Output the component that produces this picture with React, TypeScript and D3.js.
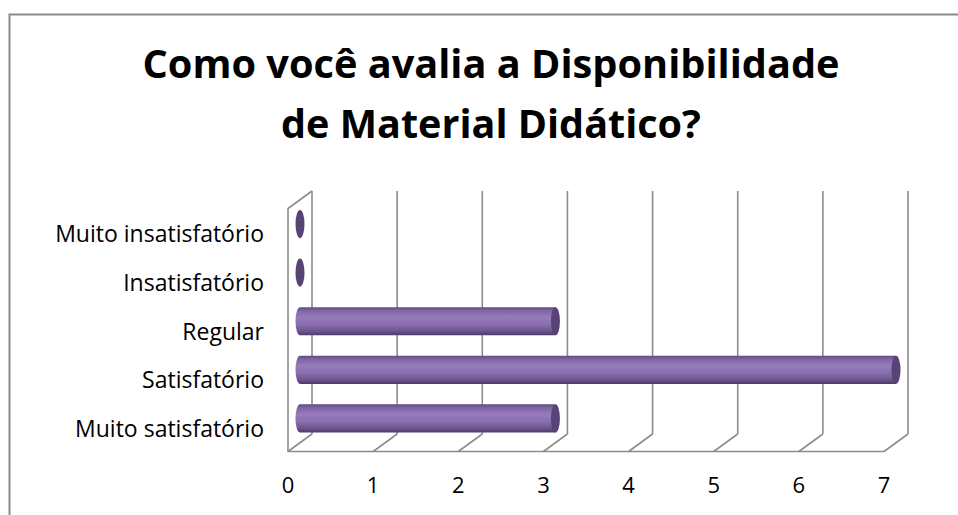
import React, { useRef, useEffect } from 'react';
import * as d3 from 'd3';

const categories = [
  'Muito insatisfatório',
  'Insatisfatório',
  'Regular',
  'Satisfatório',
  'Muito satisfatório',
];
const values = [0, 0, 3, 7, 3];
const xTicks = [0, 1, 2, 3, 4, 5, 6, 7];
const titleLines = ['Como você avalia a Disponibilidade', 'de Material Didático?'];

const W = 958;
const H = 515;

const App = () => {
  const svgRef = useRef<SVGSVGElement>(null);

  useEffect(() => {
    const svg = d3.select(svgRef.current);
    svg.selectAll('*').remove();

    // back wall of the 3d box
    const top = 191;
    const bottom = 434;
    const depth = { dx: -24, dy: 17.5 };
    const font = "'Open Sans', sans-serif";

    const x = d3.scaleLinear().domain([0, 7]).range([312, 908]);
    const y = d3.scaleBand<string>()
      .domain(categories)
      .range([top, bottom])
      .paddingInner(0.42)
      .paddingOuter(0.21);

    const grid = '#8c8c8c';

    // outer chart border (left and top only, the rest is cropped)
    svg.append('path')
      .attr('d', `M9.5,${H} V14.5 H${W}`)
      .attr('fill', 'none')
      .attr('stroke', '#8a8a8a')
      .attr('stroke-width', 2);

    // title
    svg.append('g')
      .selectAll('text')
      .data(titleLines)
      .enter()
      .append('text')
      .attr('x', 491)
      .attr('y', (d, i) => 78 + i * 60)
      .attr('text-anchor', 'middle')
      .attr('textLength', (d, i) => (i === 0 ? 697 : 420))
      .attr('lengthAdjust', 'spacingAndGlyphs')
      .style('font-family', font)
      .style('font-weight', 'bold')
      .style('font-size', '39px')
      .style('fill', '#000')
      .text(d => d);

    const g = svg.append('g');

    // back gridlines
    g.selectAll('.grid')
      .data(xTicks)
      .enter()
      .append('line')
      .attr('x1', d => x(d))
      .attr('x2', d => x(d))
      .attr('y1', top)
      .attr('y2', bottom)
      .attr('stroke', grid)
      .attr('stroke-width', 1.6);

    // floor diagonals
    g.selectAll('.floor')
      .data(xTicks)
      .enter()
      .append('line')
      .attr('x1', d => x(d))
      .attr('y1', bottom)
      .attr('x2', d => x(d) + depth.dx)
      .attr('y2', bottom + depth.dy)
      .attr('stroke', grid)
      .attr('stroke-width', 1.6);

    // front floor edge and left wall
    g.append('path')
      .attr('d', `M${x(7) + depth.dx},${bottom + depth.dy} H${x(0) + depth.dx} V${top + depth.dy} L${x(0)},${top}`)
      .attr('fill', 'none')
      .attr('stroke', grid)
      .attr('stroke-width', 1.6);

    // cylinder gradient
    const defs = svg.append('defs');
    const grad = defs.append('linearGradient')
      .attr('id', 'cyl')
      .attr('x1', 0).attr('y1', 0).attr('x2', 0).attr('y2', 1);
    [
      [0, '#5e4a80'],
      [0.12, '#7f64a3'],
      [0.35, '#977bbc'],
      [0.6, '#8b70af'],
      [0.85, '#6b5590'],
      [1, '#4c3b66'],
    ].forEach(([o, c]) => grad.append('stop').attr('offset', o).attr('stop-color', c));

    const mid = { dx: depth.dx / 2, dy: depth.dy / 2 };
    const bw = y.bandwidth();
    const rx = 4.5;

    const bars = g.selectAll('.bar')
      .data(categories.map((c, i) => ({ c, v: values[i] })))
      .enter()
      .append('g')
      .attr('class', 'bar');

    bars.each(function (d) {
      const sel = d3.select(this);
      const x0 = x(0) + mid.dx;
      const x1 = x(d.v) + mid.dx;
      const y0 = (y(d.c) as number) + mid.dy;
      const cy = y0 + bw / 2;
      if (d.v > 0) {
        sel.append('path')
          .attr('d', `M${x1},${y0} H${x0} A${rx},${bw / 2} 0 0 0 ${x0},${y0 + bw} H${x1} Z`)
          .attr('fill', 'url(#cyl)');
      }
      sel.append('ellipse')
        .attr('cx', x1)
        .attr('cy', cy)
        .attr('rx', rx)
        .attr('ry', bw / 2)
        .attr('fill', '#574474');
    });

    // category labels, on the front plane
    g.selectAll('.cat')
      .data(categories)
      .enter()
      .append('text')
      .attr('x', 264)
      .attr('y', d => (y(d) as number) + bw / 2 + depth.dy + 9.5)
      .attr('text-anchor', 'end')
      .style('font-family', font)
      .style('font-size', '23px')
      .style('fill', '#000')
      .text(d => d);

    // value axis labels
    g.selectAll('.tick')
      .data(xTicks)
      .enter()
      .append('text')
      .attr('x', d => x(d) + depth.dx)
      .attr('y', 493)
      .attr('text-anchor', 'middle')
      .style('font-family', font)
      .style('font-size', '22px')
      .style('fill', '#000')
      .text(d => d);
  }, []);

  return (
    <svg
      ref={svgRef}
      width={W}
      height={H}
      viewBox={`0 0 ${W} ${H}`}
      style={{ position: 'absolute', left: 0, top: 0, background: '#fff' }}
    ></svg>
  );
};

export default App;
